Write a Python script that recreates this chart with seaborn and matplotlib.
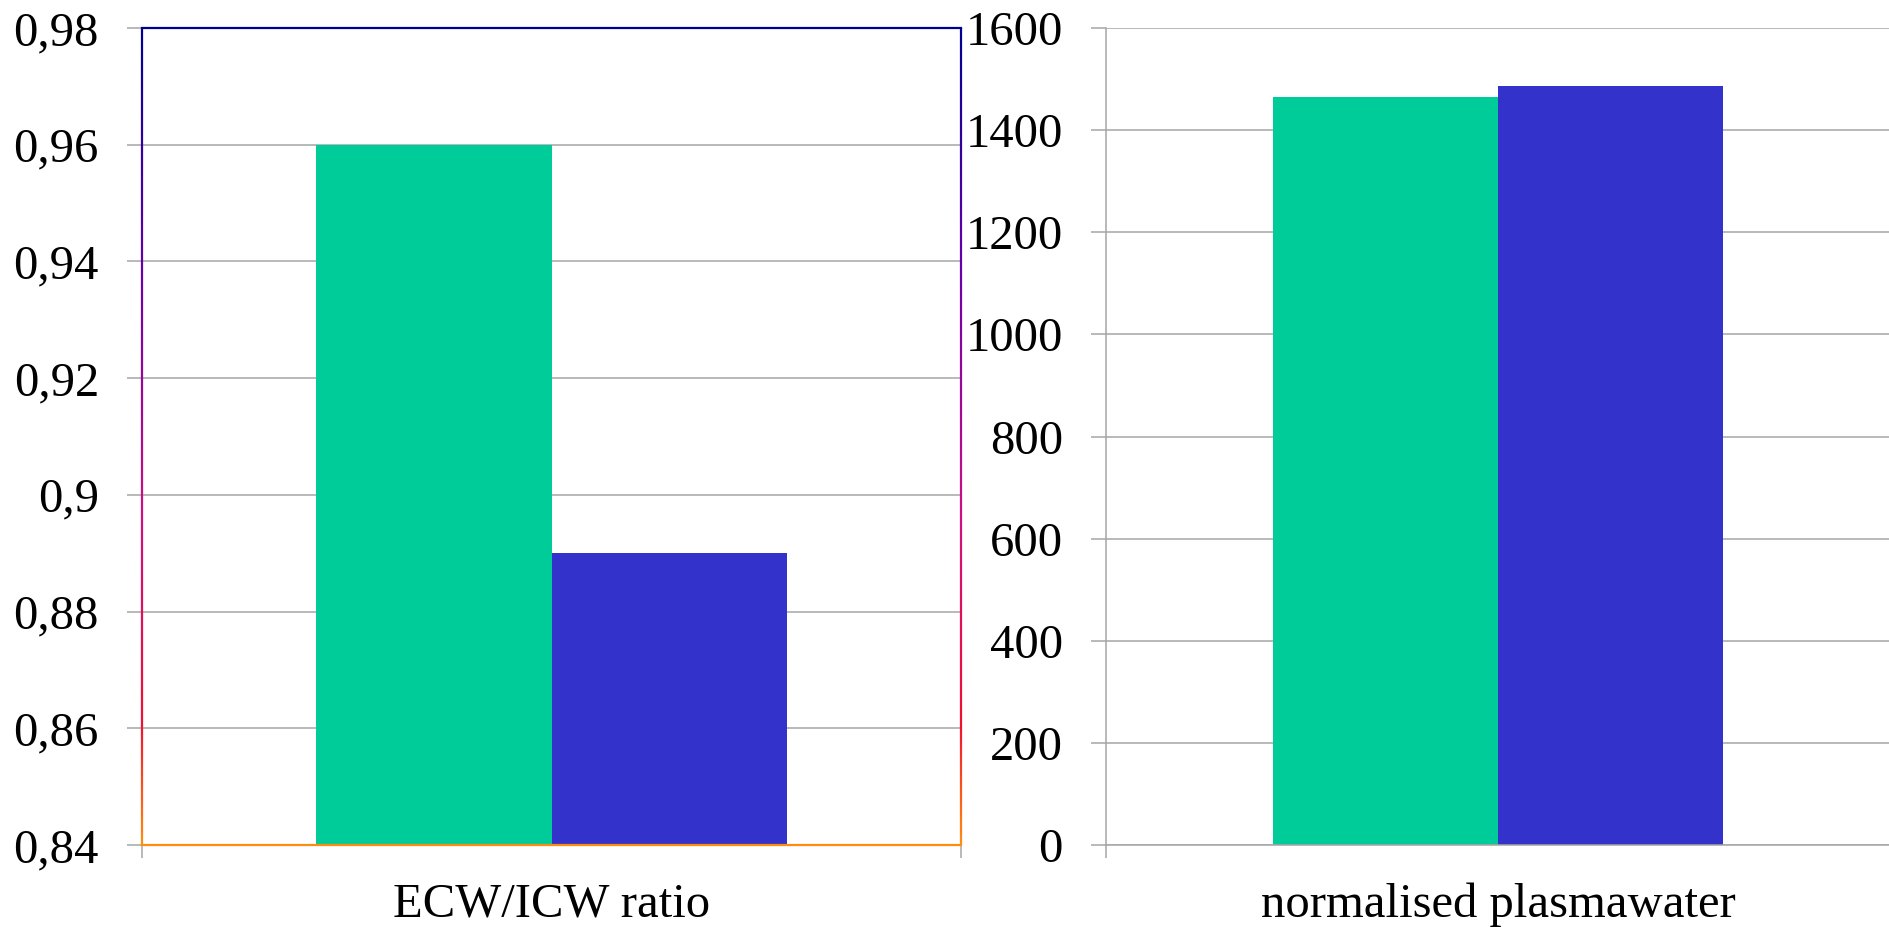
import matplotlib
matplotlib.use('Agg')
import matplotlib.pyplot as plt
import seaborn as sns
import pandas as pd
import numpy as np
from matplotlib.collections import LineCollection
from matplotlib.colors import LinearSegmentedColormap
from matplotlib.ticker import FuncFormatter, FixedLocator

# ---- data ----
groups = ['group 1', 'group 2']
ratio_category = ['ECW/ICW ratio']
ratio_values = [0.96, 0.89]
plasma_category = ['normalised plasmawater']
plasma_values = [1464, 1487]
ratio_ticks = [0.84, 0.86, 0.88, 0.90, 0.92, 0.94, 0.96, 0.98]
plasma_ticks = [0, 200, 400, 600, 800, 1000, 1200, 1400, 1600]
bar_colors = ['#00CC99', '#3333CC']

df_ratio = pd.DataFrame({'category': ratio_category * len(groups),
                         'group': groups, 'value': ratio_values})
df_plasma = pd.DataFrame({'category': plasma_category * len(groups),
                          'group': groups, 'value': plasma_values})

sns.set_theme(style='white')
plt.rcParams['font.family'] = ['Liberation Serif', 'DejaVu Serif']

W, H = 1890, 927
fig = plt.figure(figsize=(W / 100, H / 100), dpi=100)
ax1 = fig.add_axes([142 / W, 82 / H, 819 / W, 817 / H])
ax2 = fig.add_axes([1106 / W, 82 / H, 784 / W, 817 / H])

grid_c = '#A6A6A6'
fs = 35

def comma_fmt(v, pos):
    s = ('%.2f' % v).rstrip('0').rstrip('.')
    return s.replace('.', ',')

for ax, df, ticks, lim in [(ax1, df_ratio, ratio_ticks, (0.84, 0.98)),
                           (ax2, df_plasma, plasma_ticks, (0, 1600))]:
    sns.barplot(data=df, x='category', y='value', hue='group',
                palette=bar_colors, width=0.574, saturation=1,
                legend=False, ax=ax, zorder=2)
    ax.set_xlim(-0.5, 0.5)
    ax.set_ylim(*lim)
    ax.set_xlabel('')
    ax.set_ylabel('')
    ax.yaxis.set_major_locator(FixedLocator(ticks))
    ax.yaxis.grid(True, color=grid_c, lw=1.1, zorder=0)
    ax.set_axisbelow(True)
    ax.tick_params(axis='y', which='major', left=True, length=11, width=1.1,
                   color=grid_c, pad=20, labelsize=fs, labelcolor='black')
    ax.xaxis.set_minor_locator(FixedLocator([-0.5, 0.5]))
    ax.tick_params(axis='x', which='major', bottom=True, length=0, pad=27,
                   labelsize=fs, labelcolor='black')
    ax.tick_params(axis='x', which='minor', bottom=True, length=9.5, width=1.1,
                   color=grid_c)
    for p in ax.patches:
        p.set_edgecolor('none')

ax1.yaxis.set_major_formatter(FuncFormatter(comma_fmt))

# left panel frame with gradient sides
for s in ['left', 'right']:
    ax1.spines[s].set_visible(False)
ax1.spines['top'].set_color('#000090')
ax1.spines['top'].set_linewidth(1.6)
ax1.spines['bottom'].set_color('#FF8C10')
ax1.spines['bottom'].set_linewidth(1.6)
cmap = LinearSegmentedColormap.from_list(
    'frame', [(0.0, '#000090'), (0.3, '#6A00AA'), (0.6, '#D01080'),
              (0.85, '#F01030'), (1.0, '#FF9010')])
n = 200
ys = np.linspace(1, 0, n + 1)
for xs in [0.0, 1.0]:
    segs = [[(xs, ys[i]), (xs, ys[i + 1])] for i in range(n)]
    lc = LineCollection(segs, colors=[cmap(i / n) for i in range(n)],
                        linewidths=1.6, transform=ax1.transAxes,
                        clip_on=False, zorder=5)
    ax1.add_collection(lc)

# right panel: grey left axis and baseline only
ax2.spines['top'].set_visible(False)
ax2.spines['right'].set_visible(False)
ax2.spines['left'].set_color(grid_c)
ax2.spines['left'].set_linewidth(1.1)
ax2.spines['bottom'].set_color(grid_c)
ax2.spines['bottom'].set_linewidth(1.1)

fig.savefig('out.png', dpi=100, facecolor='white')
